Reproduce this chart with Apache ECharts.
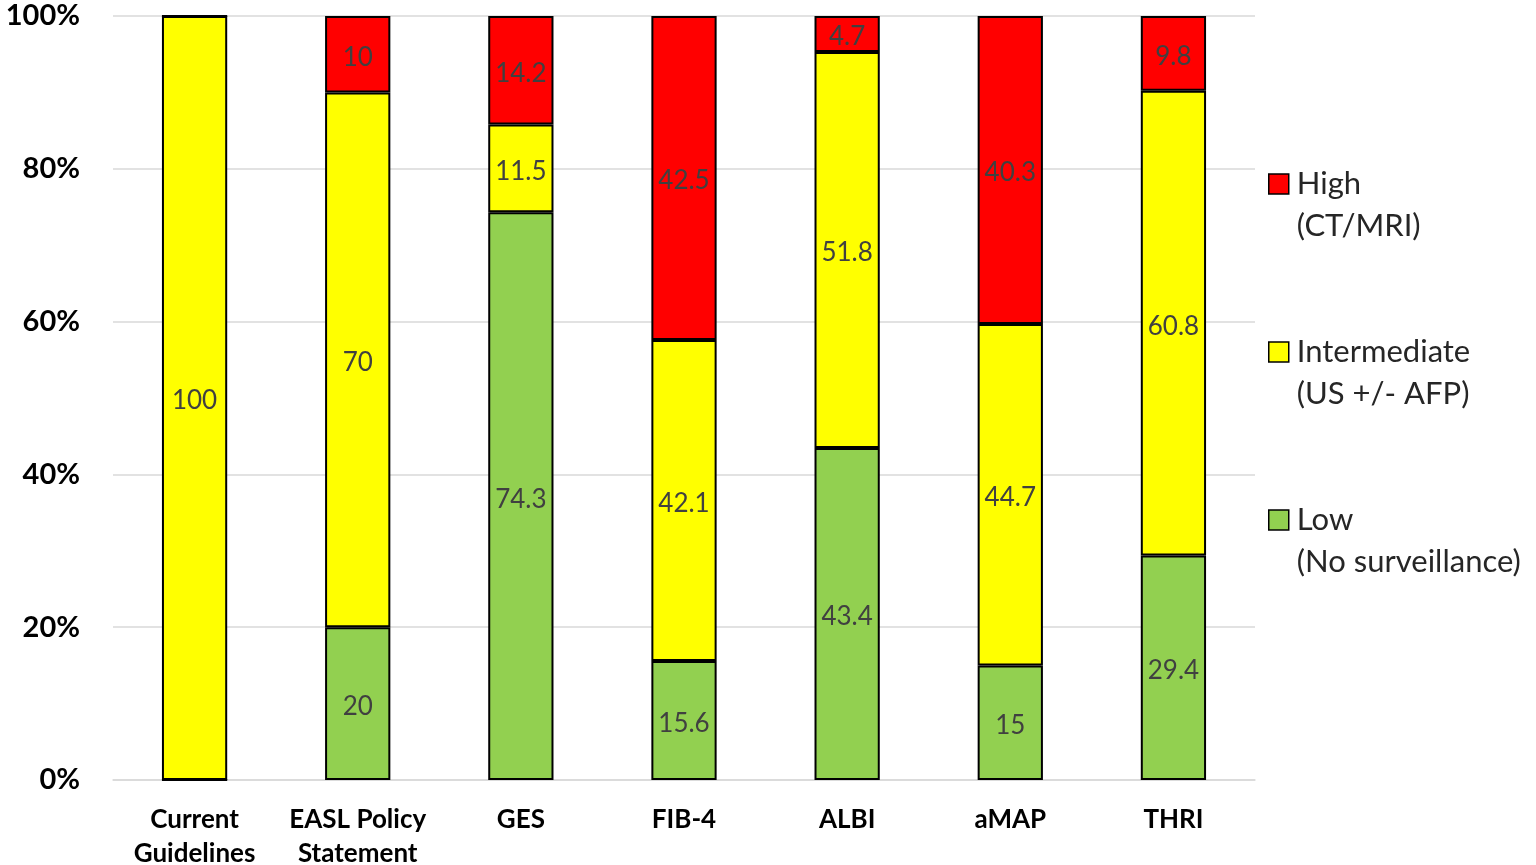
<!DOCTYPE html>
<html><head><meta charset="utf-8">
<script src="https://cdn.jsdelivr.net/npm/echarts@6/dist/echarts.min.js"></script>
<style>html,body{margin:0;padding:0;background:#fff}#c{width:1536px;height:865px}</style>
</head><body><div id="c"></div>
<script>
const categories = ['Current\nGuidelines', 'EASL Policy\nStatement', 'GES', 'FIB-4', 'ALBI', 'aMAP', 'THRI'];
const lowValues = [0, 20, 74.3, 15.6, 43.4, 15, 29.4];
const intermediateValues = [100, 70, 11.5, 42.1, 51.8, 44.7, 60.8];
const highValues = [0, 10, 14.2, 42.5, 4.7, 40.3, 9.8];
const yTicks = [0, 20, 40, 60, 80, 100];
const seriesNames = ['High\n(CT/MRI)', 'Intermediate\n(US +/- AFP)', 'Low\n(No surveillance)'];

const totals = categories.map((c, i) => lowValues[i] + intermediateValues[i] + highValues[i]);
function norm(arr) { return arr.map((v, i) => ({ value: v / totals[i] * 100, raw: v })); }

const FONT = 'Lato';
function mk(name, arr, color) {
  return {
    name: name, type: 'bar', stack: 's', barWidth: '40%',
    data: norm(arr),
    itemStyle: { color: color, borderColor: '#000', borderWidth: 2 },
    label: {
      show: true, position: 'inside', offset: [0, 3],
      formatter: p => p.data.raw === 0 ? '' : String(p.data.raw),
      color: '#404040', fontSize: 26, fontFamily: FONT
    }
  };
}
const chart = echarts.init(document.getElementById('c'));
chart.setOption({
  animation: false,
  grid: { left: 113, right: 281, top: 16, bottom: 85, outerBoundsMode: 'none', containLabel: false },
  xAxis: {
    type: 'category', data: categories,
    axisLine: { lineStyle: { color: '#d9d9d9', width: 1.5 } },
    axisTick: { show: false },
    axisLabel: { color: '#000', fontSize: 26, fontWeight: 'bold', fontFamily: FONT, lineHeight: 34, margin: 23, interval: 0 }
  },
  yAxis: {
    type: 'value', min: 0, max: 100, interval: 20,
    axisLabel: { formatter: v => yTicks.includes(v) ? v + '%' : '', color: '#000', fontSize: 29, fontWeight: 'bold', fontFamily: FONT, margin: 33 },
    splitLine: { lineStyle: { color: '#d9d9d9', width: 1.5 } },
    axisLine: { show: false }, axisTick: { show: false }
  },
  legend: {
    orient: 'vertical', left: 1268, top: 121, padding: 0,
    data: seriesNames.map(n => ({ name: n, icon: 'rect' })),
    formatter: n => '\n' + n,
    itemWidth: 20, itemHeight: 20, itemGap: 42,
    itemStyle: { borderColor: '#000', borderWidth: 1.5 },
    textStyle: { color: '#262626', fontSize: 31, fontFamily: FONT, lineHeight: 42, padding: [0, 0, 0, 3] },
    selectedMode: false
  },
  series: [
    mk(seriesNames[2], lowValues, '#92d050'),
    mk(seriesNames[1], intermediateValues, '#ffff00'),
    mk(seriesNames[0], highValues, '#ff0000')
  ]
});
</script></body></html>
